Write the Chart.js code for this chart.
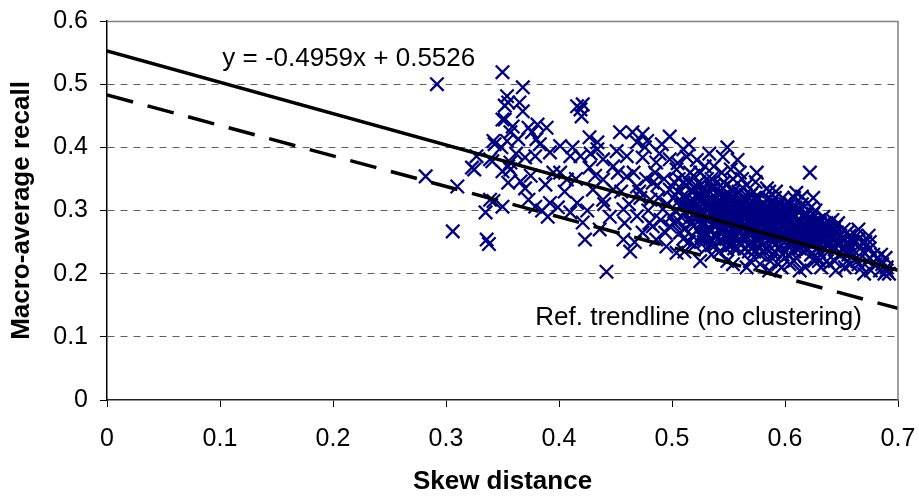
<!DOCTYPE html>
<html>
<head>
<meta charset="utf-8">
<script src="https://cdn.jsdelivr.net/npm/chart.js@4.4.0/dist/chart.umd.min.js"></script>
<style>
  html, body { margin: 0; padding: 0; background: #fff; }
  #wrap { width: 919px; height: 497px; position: relative; }
</style>
</head>
<body>
<div id="wrap"><canvas id="skew-chart"></canvas></div>
<script>
// ===== Macro-average recall vs skew distance =====

// tick labels
const xTicks = [0, 0.1, 0.2, 0.3, 0.4, 0.5, 0.6, 0.7];
const yTicks = [0, 0.1, 0.2, 0.3, 0.4, 0.5, 0.6];

// trendlines (end points at x = 0 and x = 0.7)
const trendX = [0, 0.7];
const fitY = [0.5526, 0.2055];   // y = -0.4959x + 0.5526
const refY = [0.483, 0.145];     // reference trendline, no clustering

const fitLabel = 'y = -0.4959x + 0.5526';
const refLabel = 'Ref. trendline (no clustering)';

// clustering runs: [skew distance, macro-average recall]
const runsSparse = [
    [0.282,0.354],[0.292,0.500],[0.306,0.267],[0.310,0.338],[0.323,0.368],[0.327,0.386],
    [0.325,0.365],[0.335,0.297],[0.336,0.254],[0.338,0.247],[0.339,0.381],[0.339,0.317],
    [0.342,0.315],[0.343,0.405],[0.342,0.410],[0.341,0.378],[0.349,0.400],[0.350,0.306],
    [0.350,0.444],[0.350,0.362],[0.350,0.519]
];
const runs35 = [
    [0.352,0.466],[0.354,0.481],[0.355,0.471],[0.352,0.444],[0.354,0.410],[0.355,0.370],
    [0.355,0.344],[0.357,0.424],[0.357,0.376],[0.357,0.365],[0.359,0.433],[0.364,0.413],
    [0.366,0.346],[0.368,0.457],[0.368,0.495],[0.365,0.471],[0.370,0.384],[0.373,0.431],
    [0.373,0.317],[0.376,0.424],[0.379,0.386],[0.379,0.306],[0.380,0.413],[0.381,0.436],
    [0.383,0.405],[0.388,0.341],[0.389,0.431],[0.392,0.392],[0.392,0.312],[0.399,0.305],
    [0.375,0.355],[0.385,0.300],[0.395,0.360],[0.362,0.390],[0.370,0.335],[0.390,0.290]
];
const runs40 = [
    [0.401,0.360],[0.401,0.402],[0.407,0.349],[0.410,0.297],[0.410,0.386],[0.412,0.400],
    [0.416,0.312],[0.416,0.465],[0.419,0.460],[0.419,0.386],[0.420,0.449],[0.421,0.468],
    [0.421,0.281],[0.423,0.254],[0.427,0.416],[0.427,0.368],[0.430,0.333],[0.434,0.397],
    [0.434,0.408],[0.436,0.270],[0.439,0.381],[0.439,0.349],[0.439,0.317],[0.442,0.203],
    [0.448,0.370],[0.448,0.333],[0.405,0.330],[0.415,0.350],[0.425,0.300],[0.432,0.355],
    [0.445,0.290],[0.440,0.310],[0.428,0.390]
];
const runs45 = [
    [0.451,0.394],[0.454,0.424],[0.457,0.302],[0.457,0.254],[0.460,0.386],[0.460,0.354],
    [0.463,0.235],[0.465,0.424],[0.469,0.408],[0.469,0.338],[0.469,0.291],[0.474,0.421],
    [0.474,0.384],[0.474,0.265],[0.481,0.317],[0.483,0.344],[0.483,0.275],[0.486,0.376],
    [0.486,0.254],[0.492,0.302],[0.495,0.243],[0.498,0.417],[0.498,0.381],[0.498,0.333],
    [0.498,0.275],[0.455,0.330],[0.462,0.310],[0.466,0.360],[0.472,0.320],[0.477,0.350],
    [0.479,0.300],[0.485,0.360],[0.488,0.320],[0.490,0.285],[0.493,0.350],[0.496,0.310],
    [0.452,0.360],[0.476,0.400],[0.480,0.280],[0.489,0.390],[0.494,0.265],[0.458,0.280],
    [0.467,0.250],[0.471,0.330],[0.487,0.340],[0.499,0.290],[0.478,0.410],[0.491,0.405]
];
const runs50 = [
    [0.504,0.365],[0.504,0.233],[0.507,0.265],[0.507,0.317],[0.510,0.397],[0.510,0.344],
    [0.502,0.280],[0.503,0.300],[0.505,0.330],[0.506,0.350],[0.508,0.290],[0.509,0.310],
    [0.511,0.270],[0.512,0.320],[0.513,0.340],[0.514,0.300],[0.515,0.250],[0.516,0.360],
    [0.517,0.280],[0.518,0.310],[0.519,0.330],[0.501,0.320],[0.513,0.385],[0.518,0.260],
    [0.520,0.290],[0.505,0.375],[0.515,0.405],[0.502,0.345],[0.511,0.235],[0.519,0.355],
    [0.521,0.340],[0.522,0.300],[0.523,0.270],[0.524,0.320],[0.525,0.360],[0.526,0.280],
    [0.527,0.310],[0.528,0.250],[0.529,0.330],[0.530,0.290],[0.531,0.350],[0.532,0.270],
    [0.533,0.390],[0.534,0.310],[0.535,0.230],[0.536,0.300],[0.537,0.340],[0.538,0.260],
    [0.539,0.320],[0.522,0.380],[0.525,0.220],[0.527,0.295],[0.530,0.315],[0.533,0.285],
    [0.536,0.335],[0.539,0.275],[0.524,0.345],[0.528,0.265],[0.531,0.305],[0.534,0.255],
    [0.537,0.370],[0.520,0.315],[0.526,0.330],[0.532,0.325],[0.538,0.290],[0.529,0.370],
    [0.535,0.245],[0.523,0.295]
];
const runs54 = [
    [0.540,0.300],[0.541,0.280],[0.542,0.330],[0.543,0.250],[0.544,0.360],[0.545,0.290],
    [0.546,0.310],[0.547,0.270],[0.548,0.340],[0.549,0.220],[0.550,0.300],[0.551,0.260],
    [0.552,0.320],[0.553,0.280],[0.554,0.350],[0.555,0.240],[0.556,0.310],[0.557,0.290],
    [0.558,0.270],[0.559,0.330],[0.541,0.315],[0.543,0.295],[0.545,0.265],[0.547,0.325],
    [0.549,0.285],[0.551,0.305],[0.553,0.245],[0.555,0.275],[0.557,0.315],[0.559,0.295],
    [0.542,0.235],[0.546,0.345],[0.548,0.255],[0.552,0.365],[0.554,0.215],[0.556,0.285],
    [0.558,0.305],[0.544,0.275],[0.550,0.325],[0.554,0.330],[0.545,0.385],[0.558,0.380],
    [0.549,0.400]
];
const runs56 = [
    [0.560,0.280],[0.561,0.300],[0.562,0.260],[0.563,0.320],[0.564,0.240],[0.565,0.290],
    [0.566,0.340],[0.567,0.270],[0.568,0.310],[0.569,0.220],[0.570,0.290],[0.571,0.250],
    [0.572,0.330],[0.573,0.280],[0.574,0.300],[0.575,0.260],[0.576,0.320],[0.577,0.240],
    [0.578,0.290],[0.579,0.270],[0.561,0.315],[0.563,0.275],[0.565,0.255],[0.567,0.305],
    [0.569,0.285],[0.571,0.315],[0.573,0.235],[0.575,0.295],[0.577,0.265],[0.579,0.310],
    [0.562,0.350],[0.566,0.210],[0.568,0.245],[0.570,0.270],[0.574,0.345],[0.576,0.285],
    [0.578,0.215],[0.564,0.295],[0.572,0.290],[0.580,0.300],[0.560,0.360],[0.575,0.360]
];
const runs58 = [
    [0.580,0.280],[0.581,0.260],[0.582,0.310],[0.583,0.240],[0.584,0.290],[0.585,0.270],
    [0.586,0.330],[0.587,0.220],[0.588,0.300],[0.589,0.250],[0.590,0.280],[0.591,0.320],
    [0.592,0.260],[0.593,0.290],[0.594,0.240],[0.595,0.310],[0.596,0.270],[0.597,0.210],
    [0.598,0.290],[0.599,0.250],[0.581,0.295],[0.583,0.275],[0.585,0.305],[0.587,0.255],
    [0.589,0.315],[0.591,0.235],[0.593,0.275],[0.595,0.285],[0.597,0.305],[0.599,0.265],
    [0.582,0.235],[0.584,0.335],[0.586,0.205],[0.588,0.265],[0.590,0.300],[0.592,0.330],
    [0.594,0.215],[0.596,0.255],[0.598,0.320],[0.585,0.285],[0.590,0.270]
];
const runs60 = [
    [0.600,0.280],[0.601,0.260],[0.602,0.300],[0.603,0.230],[0.604,0.270],[0.605,0.310],
    [0.606,0.250],[0.607,0.290],[0.608,0.220],[0.609,0.280],[0.610,0.328],[0.611,0.260],
    [0.612,0.300],[0.613,0.240],[0.614,0.270],[0.615,0.322],[0.616,0.250],[0.617,0.290],
    [0.618,0.210],[0.619,0.270],[0.622,0.360],[0.601,0.305],[0.603,0.285],[0.605,0.245],
    [0.607,0.265],[0.609,0.305],[0.611,0.285],[0.613,0.205],[0.615,0.265],[0.617,0.235],
    [0.619,0.295],[0.604,0.215],[0.608,0.320],[0.612,0.255],[0.616,0.280],[0.602,0.245],
    [0.606,0.285],[0.610,0.240],[0.614,0.300],[0.618,0.260]
];
const runs62 = [
    [0.620,0.270],[0.621,0.250],[0.622,0.290],[0.623,0.230],[0.624,0.260],[0.625,0.280],
    [0.626,0.220],[0.627,0.300],[0.628,0.240],[0.629,0.270],[0.630,0.250],[0.631,0.280],
    [0.632,0.210],[0.633,0.260],[0.634,0.290],[0.635,0.240],[0.636,0.270],[0.637,0.220],
    [0.638,0.250],[0.639,0.280],[0.621,0.285],[0.624,0.245],[0.627,0.265],[0.630,0.235],
    [0.633,0.275],[0.636,0.255],[0.639,0.215],[0.623,0.305],[0.626,0.255],[0.629,0.225],
    [0.632,0.245],[0.635,0.265],[0.638,0.270],[0.625,0.320]
];
const runs64 = [
    [0.640,0.260],[0.641,0.240],[0.643,0.270],[0.644,0.220],[0.645,0.250],[0.647,0.280],
    [0.648,0.230],[0.649,0.260],[0.651,0.240],[0.652,0.270],[0.653,0.210],[0.655,0.250],
    [0.656,0.230],[0.657,0.260],[0.659,0.240],[0.642,0.285],[0.646,0.265],[0.650,0.255],
    [0.654,0.235],[0.658,0.215],[0.645,0.205],[0.660,0.250],
    [0.661,0.230],[0.663,0.260],[0.664,0.220],[0.666,0.245],[0.668,0.210],[0.669,0.235],
    [0.671,0.250],[0.673,0.220],[0.675,0.240],[0.676,0.205],[0.678,0.230],[0.680,0.215],
    [0.682,0.225],[0.684,0.205],[0.686,0.215],[0.688,0.200],[0.690,0.210],[0.692,0.200],
    [0.689,0.225],[0.665,0.270],[0.670,0.200],[0.674,0.260]
];
// the solid core of the cloud
const runsCore = [
    [0.505,0.285],[0.508,0.305],[0.511,0.325],[0.514,0.285],[0.517,0.300],[0.520,0.335],
    [0.523,0.310],[0.526,0.300],[0.529,0.280],[0.532,0.300],[0.535,0.320],[0.538,0.305],
    [0.541,0.290],[0.544,0.310],[0.547,0.285],[0.550,0.275],[0.553,0.300],[0.556,0.295],
    [0.559,0.280],[0.562,0.290],[0.565,0.305],[0.568,0.280],[0.571,0.270],[0.574,0.285],
    [0.577,0.300],[0.580,0.265],[0.583,0.290],[0.586,0.280],[0.589,0.270],[0.592,0.285],
    [0.595,0.265],[0.598,0.275],[0.601,0.270],[0.604,0.290],[0.607,0.255],[0.610,0.270],
    [0.613,0.280],[0.616,0.265],[0.619,0.250],[0.622,0.265],[0.625,0.255],[0.628,0.260],
    [0.631,0.265],[0.634,0.250],[0.637,0.245],[0.510,0.255],[0.520,0.245],[0.530,0.240],
    [0.540,0.260],[0.550,0.245],[0.560,0.250],[0.570,0.240],[0.580,0.245],[0.590,0.230],
    [0.600,0.235],[0.610,0.225],[0.620,0.240],[0.630,0.220],[0.515,0.345],[0.525,0.340],
    [0.535,0.350],[0.545,0.335],[0.555,0.320],[0.565,0.325],[0.575,0.315],[0.585,0.320],
    [0.595,0.300],[0.605,0.295],[0.615,0.310],[0.625,0.295],[0.635,0.280],[0.645,0.275],
    [0.655,0.265],[0.665,0.255],[0.675,0.250],[0.685,0.230],[0.645,0.240],[0.655,0.220],
    [0.665,0.215],[0.675,0.225],[0.690,0.205]
];
const runsCore2 = [
    [0.512,0.295],[0.516,0.315],[0.519,0.275],[0.522,0.325],[0.524,0.285],[0.527,0.320],
    [0.530,0.265],[0.533,0.305],[0.536,0.280],[0.539,0.310],[0.542,0.270],[0.544,0.320],
    [0.547,0.300],[0.549,0.265],[0.552,0.290],[0.554,0.310],[0.557,0.260],[0.559,0.305],
    [0.562,0.275],[0.564,0.310],[0.567,0.290],[0.569,0.260],[0.572,0.305],[0.574,0.275],
    [0.577,0.290],[0.579,0.250],[0.582,0.275],[0.584,0.300],[0.587,0.270],[0.589,0.290],
    [0.592,0.275],[0.594,0.295],[0.597,0.260],[0.599,0.280],[0.602,0.270],[0.604,0.250],
    [0.607,0.275],[0.609,0.260],[0.612,0.285],[0.614,0.255],[0.617,0.275],[0.619,0.260],
    [0.622,0.280],[0.624,0.270],[0.627,0.250],[0.629,0.260],[0.632,0.270],[0.634,0.255],
    [0.637,0.265],[0.639,0.245],[0.642,0.255],[0.644,0.265],[0.647,0.245],[0.649,0.250],
    [0.652,0.240],[0.526,0.260],[0.534,0.270],[0.543,0.265],[0.551,0.255],[0.563,0.260],
    [0.576,0.255],[0.588,0.255],[0.597,0.245],[0.611,0.245],[0.623,0.250],[0.535,0.335],
    [0.548,0.315],[0.560,0.315],[0.570,0.300],[0.583,0.305],[0.595,0.290],[0.606,0.305],
    [0.618,0.290],[0.630,0.285],[0.642,0.270],[0.518,0.280],[0.530,0.325],[0.570,0.325],
    [0.600,0.310]
];
const runsCore3 = [
    [0.514,0.310],[0.517,0.330],[0.521,0.290],[0.524,0.305],[0.527,0.275],[0.531,0.285],
    [0.534,0.295],[0.537,0.315],[0.540,0.285],[0.543,0.305],[0.546,0.275],[0.548,0.295],
    [0.551,0.315],[0.553,0.270],[0.556,0.300],[0.558,0.285],[0.561,0.265],[0.563,0.295],
    [0.566,0.315],[0.568,0.265],[0.571,0.285],[0.573,0.300],[0.576,0.270],[0.578,0.305],
    [0.581,0.285],[0.583,0.260],[0.586,0.295],[0.588,0.280],[0.591,0.300],[0.593,0.265],
    [0.596,0.285],[0.598,0.260],[0.601,0.290],[0.603,0.265],[0.606,0.275],[0.608,0.290],
    [0.611,0.270],[0.613,0.260],[0.616,0.290],[0.618,0.275],[0.621,0.260],[0.623,0.285],
    [0.626,0.270],[0.628,0.280],[0.631,0.255],[0.533,0.345],[0.543,0.340],[0.553,0.335],
    [0.563,0.335],[0.573,0.320],[0.588,0.310],[0.528,0.255],[0.538,0.245],[0.548,0.240],
    [0.558,0.240],[0.568,0.235],[0.578,0.230],[0.588,0.240],[0.598,0.230],[0.608,0.235]
];

const allRuns = [].concat(runsSparse, runs35, runs40, runs45, runs50, runs54,
                          runs56, runs58, runs60, runs62, runs64,
                          runsCore, runsCore2, runsCore3);

const FONT = "'Liberation Sans', Arial, sans-serif";
const near = (a, b) => Math.abs(a - b) < 1e-9;

// frame (top + right) and the two text labels
const framePlugin = {
    id: 'frame',
    afterDraw(chart) {
        const { ctx, chartArea: a, scales } = chart;
        ctx.save();
        ctx.strokeStyle = '#808080';
        ctx.lineWidth = 1.5;
        ctx.beginPath();
        ctx.moveTo(a.left, a.top + 0.5);
        ctx.lineTo(a.right, a.top + 0.5);
        ctx.lineTo(a.right, a.bottom);
        ctx.stroke();

        ctx.fillStyle = '#000';
        ctx.font = '26px ' + FONT;
        ctx.textBaseline = 'middle';
        ctx.textAlign = 'left';
        ctx.fillText(fitLabel, scales.x.getPixelForValue(0.102), scales.y.getPixelForValue(0.540));
        ctx.fillText(refLabel, scales.x.getPixelForValue(0.379), scales.y.getPixelForValue(0.130));
        ctx.restore();
    }
};

function initSkewChart() {
    const ctx = document.getElementById('skew-chart');

    new Chart(ctx, {
        data: {
            datasets: [
                {
                    type: 'line',
                    data: trendX.map((x, i) => ({ x, y: fitY[i] })),
                    borderColor: '#000',
                    borderWidth: 3.5,
                    pointRadius: 0,
                    order: 0
                },
                {
                    type: 'line',
                    data: trendX.map((x, i) => ({ x, y: refY[i] })),
                    borderColor: '#000',
                    borderWidth: 3.5,
                    borderDash: [27, 15],
                    pointRadius: 0,
                    order: 0
                },
                {
                    type: 'scatter',
                    data: allRuns.map(p => ({ x: p[0], y: p[1] })),
                    pointStyle: 'crossRot',
                    pointRadius: 9.5,
                    pointBorderWidth: 2.3,
                    borderColor: '#000080',
                    backgroundColor: '#000080',
                    order: 1
                }
            ]
        },
        options: {
            responsive: true,
            maintainAspectRatio: false,
            animation: false,
            layout: { padding: { top: 21, right: 21, left: 0, bottom: 0 } },
            plugins: {
                legend: { display: false },
                tooltip: { enabled: false }
            },
            scales: {
                x: {
                    type: 'linear',
                    min: xTicks[0],
                    max: xTicks[xTicks.length - 1],
                    afterBuildTicks: s => { s.ticks = xTicks.map(v => ({ value: v })); },
                    afterFit: s => { s.height = 97; s.paddingLeft = 0; s.paddingRight = 0; },
                    ticks: {
                        color: '#000',
                        padding: 17,
                        font: { family: FONT, size: 25 },
                        callback: v => (v === 0 ? '0' : v.toFixed(1))
                    },
                    grid: {
                        drawOnChartArea: false,
                        drawTicks: true,
                        tickLength: 7,
                        tickColor: '#000',
                        tickWidth: 1
                    },
                    border: { color: '#222', width: 1.5 },
                    title: {
                        display: true,
                        text: 'Skew distance',
                        color: '#000',
                        font: { family: FONT, size: 26, weight: 'bold' },
                        padding: { top: 0, bottom: 0 }
                    }
                },
                y: {
                    type: 'linear',
                    min: yTicks[0],
                    max: yTicks[yTicks.length - 1],
                    afterBuildTicks: s => { s.ticks = yTicks.map(v => ({ value: v })); },
                    afterFit: s => { s.width = 107; s.paddingTop = 0; s.paddingBottom = 0; },
                    ticks: {
                        color: '#000',
                        padding: 12,
                        font: { family: FONT, size: 25 },
                        callback: v => (v === 0 ? '0' : v.toFixed(1))
                    },
                    grid: {
                        color: c => (near(c.tick.value, 0) || near(c.tick.value, 0.6)) ? 'rgba(0,0,0,0)' : '#606060',
                        lineWidth: 1,
                        drawTicks: true,
                        tickLength: 7,
                        tickColor: '#000',
                        tickWidth: 1
                    },
                    border: { color: '#000', width: 1.5, dash: [7, 6] },
                    title: {
                        display: true,
                        text: 'Macro-average recall',
                        color: '#000',
                        font: { family: FONT, size: 26, weight: 'bold' },
                        padding: { top: 6, bottom: 0 }
                    }
                }
            }
        },
        plugins: [framePlugin]
    });
}

initSkewChart();
</script>
</body>
</html>
